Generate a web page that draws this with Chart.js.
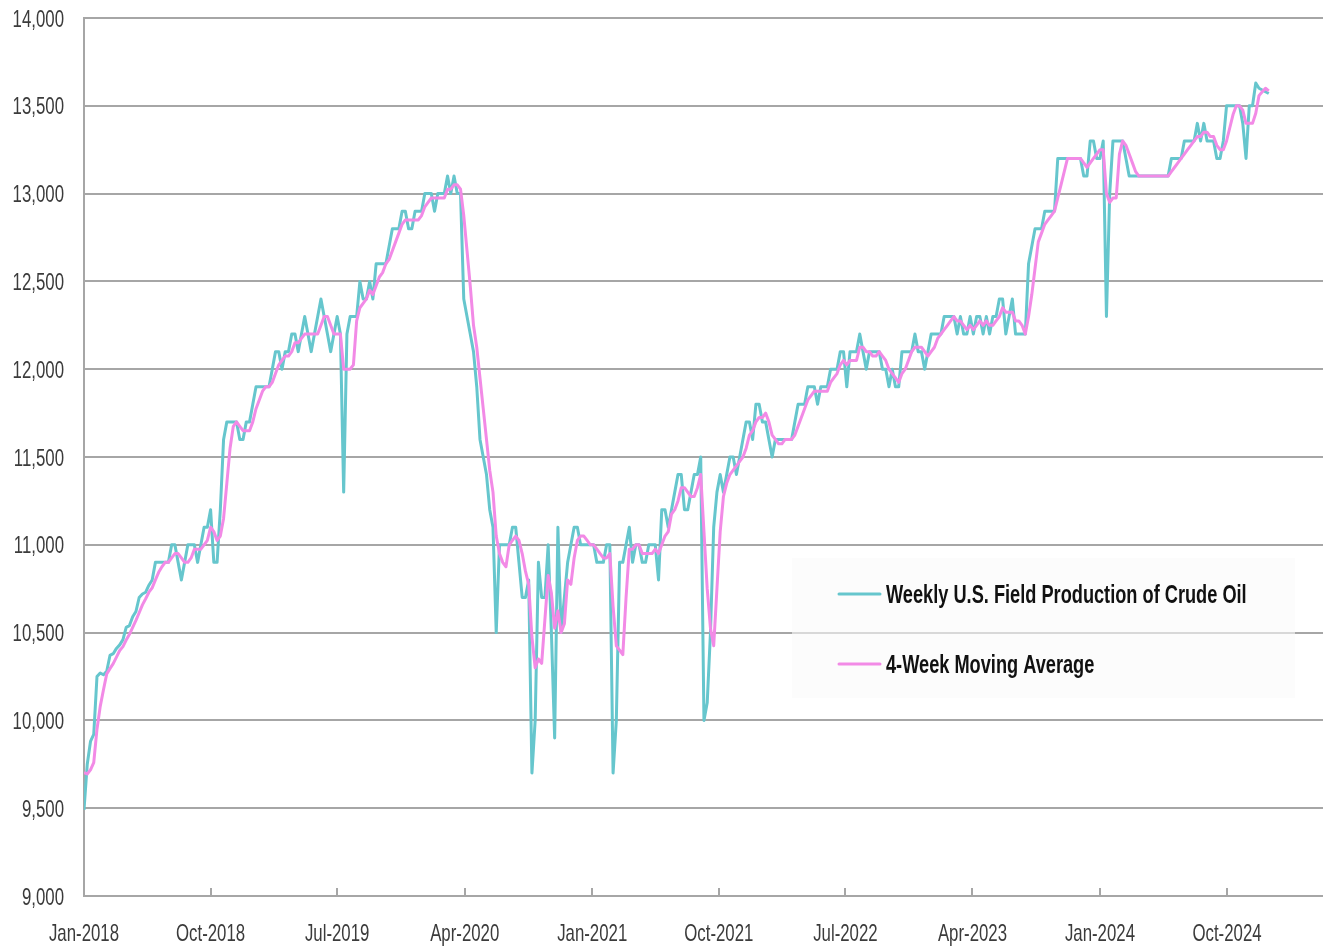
<!DOCTYPE html>
<html>
<head>
<meta charset="utf-8">
<title>Weekly U.S. Field Production of Crude Oil</title>
<script src="https://cdn.jsdelivr.net/npm/chart.js@4.4.1/dist/chart.umd.min.js"></script>
<style>
  html, body { margin: 0; padding: 0; background: #ffffff; }
  canvas { display: block; }
</style>
</head>
<body>
<canvas id="chart" width="1323" height="946"></canvas>
<script>
// Weekly U.S. field production of crude oil, thousand barrels per day (one value per week, from the first week of 2018)
const prod2018 = [9490, 9750, 9880, 9920, 10250, 10270, 10260, 10280, 10370, 10380,
  10410, 10430, 10460, 10530, 10540, 10590, 10620, 10700, 10720, 10730,
  10770, 10800, 10900, 10900, 10900, 10900, 10900, 11000, 11000, 10900,
  10800, 10900, 11000, 11000, 11000, 10900, 11000, 11100, 11100, 11200,
  10900, 10900, 11200, 11600, 11700, 11700, 11700, 11700, 11600, 11600,
  11700, 11700];
const prod2019 = [11800, 11900, 11900, 11900, 11900, 11900, 12000, 12100, 12100, 12000,
  12100, 12100, 12200, 12200, 12100, 12200, 12300, 12200, 12100, 12200,
  12300, 12400, 12300, 12200, 12100, 12200, 12300, 12200, 11300, 12200,
  12300, 12300, 12300, 12500, 12400, 12400, 12500, 12400, 12600, 12600,
  12600, 12600, 12700, 12800, 12800, 12800, 12900, 12900, 12800, 12800,
  12900, 12900];
const prod2020 = [12900, 13000, 13000, 13000, 12900, 13000, 13000, 13000, 13100, 13000,
  13100, 13000, 13000, 12400, 12300, 12200, 12100, 11900, 11600, 11500,
  11400, 11200, 11100, 10500, 11000, 11000, 11000, 11000, 11100, 11100,
  10900, 10700, 10700, 10800, 9700, 10000, 10900, 10700, 10700, 11000,
  10500, 9900, 11100, 10500, 10700, 10900, 11000, 11100, 11100, 11000,
  11000, 11000];
const prod2021 = [11000, 11000, 10900, 10900, 10900, 11000, 11000, 9700, 10000, 10900,
  10900, 11000, 11100, 10900, 11000, 11000, 10900, 10900, 11000, 11000,
  11000, 10800, 11200, 11200, 11100, 11200, 11300, 11400, 11400, 11200,
  11200, 11300, 11400, 11400, 11500, 10000, 10100, 10500, 11100, 11300,
  11400, 11300, 11400, 11500, 11500, 11400, 11500, 11600, 11700, 11700,
  11600, 11800];
const prod2022 = [11800, 11700, 11700, 11600, 11500, 11600, 11600, 11600, 11600, 11600,
  11600, 11700, 11800, 11800, 11800, 11900, 11900, 11900, 11800, 11900,
  11900, 11900, 12000, 12000, 12000, 12100, 12100, 11900, 12100, 12100,
  12100, 12200, 12100, 12000, 12100, 12100, 12100, 12100, 12000, 12000,
  11900, 12000, 11900, 11900, 12100, 12100, 12100, 12100, 12200, 12100,
  12100, 12000];
const prod2023 = [12100, 12200, 12200, 12200, 12200, 12300, 12300, 12300, 12300, 12200,
  12300, 12200, 12200, 12300, 12200, 12300, 12300, 12200, 12300, 12200,
  12300, 12300, 12400, 12400, 12200, 12300, 12400, 12200, 12200, 12200,
  12200, 12600, 12700, 12800, 12800, 12800, 12900, 12900, 12900, 12900,
  13200, 13200, 13200, 13200, 13200, 13200, 13200, 13200, 13100, 13100,
  13300, 13300];
const prod2024 = [13200, 13200, 13300, 12300, 13000, 13300, 13300, 13300, 13300, 13200,
  13100, 13100, 13100, 13100, 13100, 13100, 13100, 13100, 13100, 13100,
  13100, 13100, 13100, 13200, 13200, 13200, 13200, 13300, 13300, 13300,
  13300, 13400, 13300, 13400, 13300, 13300, 13300, 13200, 13200, 13300,
  13500, 13500, 13500, 13500, 13500, 13400, 13200, 13500, 13500, 13630,
  13600, 13590, 13580, 13570];

// 4-week moving average, same weeks
const avg2018 = [9703, 9695, 9718, 9760, 9950, 10080, 10175, 10265, 10295, 10323,
  10360, 10398, 10420, 10458, 10490, 10530, 10570, 10613, 10658, 10693,
  10730, 10755, 10800, 10843, 10875, 10900, 10900, 10925, 10950, 10950,
  10925, 10900, 10900, 10925, 10975, 10975, 10975, 11000, 11025, 11100,
  11075, 11025, 11050, 11150, 11350, 11550, 11675, 11700, 11675, 11650,
  11650, 11650];
const avg2019 = [11700, 11775, 11825, 11875, 11900, 11900, 11925, 11975, 12025, 12050,
  12075, 12075, 12100, 12150, 12150, 12175, 12200, 12200, 12200, 12200,
  12200, 12250, 12300, 12300, 12250, 12200, 12200, 12200, 12000, 12000,
  12000, 12025, 12275, 12350, 12375, 12400, 12450, 12425, 12475, 12525,
  12550, 12600, 12625, 12675, 12725, 12775, 12825, 12850, 12850, 12850,
  12850, 12850];
const avg2020 = [12875, 12925, 12950, 12975, 12975, 12975, 12975, 12975, 13025, 13025,
  13050, 13050, 13025, 12875, 12675, 12475, 12250, 12125, 11950, 11775,
  11600, 11425, 11300, 11050, 10950, 10900, 10875, 11000, 11025, 11050,
  11025, 10950, 10850, 10775, 10475, 10300, 10350, 10325, 10575, 10825,
  10725, 10525, 10625, 10500, 10550, 10800, 10775, 10925, 11025, 11050,
  11050, 11025];
const avg2021 = [11000, 11000, 10975, 10950, 10925, 10925, 10950, 10650, 10425, 10400,
  10375, 10700, 10975, 10975, 11000, 11000, 10950, 10950, 10950, 10950,
  10975, 10950, 11000, 11050, 11075, 11175, 11200, 11250, 11325, 11325,
  11300, 11275, 11275, 11325, 11400, 11075, 10750, 10525, 10425, 10750,
  11075, 11275, 11350, 11400, 11425, 11450, 11475, 11500, 11550, 11625,
  11650, 11700];
const avg2022 = [11725, 11725, 11750, 11700, 11625, 11600, 11575, 11575, 11600, 11600,
  11600, 11625, 11675, 11725, 11775, 11825, 11850, 11875, 11875, 11875,
  11875, 11875, 11925, 11950, 11975, 12025, 12050, 12025, 12050, 12050,
  12050, 12125, 12125, 12100, 12100, 12075, 12075, 12100, 12075, 12050,
  12000, 11975, 11950, 11925, 11975, 12000, 12050, 12100, 12125, 12125,
  12125, 12100];
const avg2023 = [12075, 12100, 12125, 12175, 12200, 12225, 12250, 12275, 12300, 12275,
  12275, 12250, 12225, 12250, 12225, 12250, 12275, 12250, 12275, 12250,
  12250, 12275, 12300, 12350, 12325, 12325, 12325, 12275, 12275, 12250,
  12200, 12300, 12425, 12575, 12725, 12775, 12825, 12850, 12875, 12900,
  12975, 13050, 13125, 13200, 13200, 13200, 13200, 13200, 13175, 13150,
  13175, 13200];
const avg2024 = [13225, 13250, 13250, 13000, 12950, 12975, 12975, 13225, 13300, 13275,
  13225, 13175, 13125, 13100, 13100, 13100, 13100, 13100, 13100, 13100,
  13100, 13100, 13100, 13125, 13150, 13175, 13200, 13225, 13250, 13275,
  13300, 13325, 13325, 13350, 13350, 13325, 13325, 13275, 13250, 13250,
  13300, 13375, 13450, 13500, 13500, 13475, 13400, 13400, 13400, 13458,
  13558, 13580, 13600, 13585];

const xTickLabels = ['Jan-2018', 'Oct-2018', 'Jul-2019', 'Apr-2020', 'Jan-2021',
  'Oct-2021', 'Jul-2022', 'Apr-2023', 'Jan-2024', 'Oct-2024'];
const yRange = { min: 9000, max: 14000, step: 500 };
const seriesNames = ['Weekly U.S. Field Production of Crude Oil', '4-Week Moving Average'];
const seriesColors = ['#66c6cd', '#f28ae6'];

// ---- time helpers: x values are days counted from 1 Jan 2018 ----
const DAY_MS = 86400000;
const ORIGIN = Date.UTC(2018, 0, 1);
const MONTHS = ['Jan', 'Feb', 'Mar', 'Apr', 'May', 'Jun', 'Jul', 'Aug', 'Sep', 'Oct', 'Nov', 'Dec'];
const X_MAX_DAY = (Date.UTC(2025, 3, 26) - ORIGIN) / DAY_MS;

function labelToDay(label) {
  const [mon, year] = label.split('-');
  return (Date.UTC(Number(year), MONTHS.indexOf(mon), 1) - ORIGIN) / DAY_MS;
}

const weekly = [].concat(prod2018, prod2019, prod2020, prod2021, prod2022, prod2023, prod2024);
const movingAvg = [].concat(avg2018, avg2019, avg2020, avg2021, avg2022, avg2023, avg2024);
const toPoints = arr => arr.map((v, i) => ({ x: i * 7, y: v }));

// Text in this chart is set in a horizontally condensed face
const SQUEEZE = 0.7;
const FONT_FAMILY = '"Liberation Sans", Arial, Helvetica, sans-serif';
const AXIS_GREY = '#a6a6a6';

function squeezedText(ctx, text, x, y, align) {
  ctx.save();
  ctx.translate(x, y);
  ctx.scale(SQUEEZE, 1);
  ctx.textAlign = align;
  ctx.fillText(text, 0, 0);
  ctx.restore();
}

// Axis tick labels and the inward x tick marks
const axisLabels = {
  id: 'axisLabels',
  afterDraw(chart) {
    const { ctx, scales: { x, y } } = chart;
    const size = 24;
    ctx.save();
    ctx.fillStyle = '#3b3b3b';
    ctx.font = size + 'px ' + FONT_FAMILY;
    ctx.textBaseline = 'alphabetic';
    y.ticks.forEach(t => {
      const py = y.getPixelForValue(t.value);
      squeezedText(ctx, t.label, y.right - 20, py + size * 0.358, 'right');
    });
    x.ticks.forEach(t => {
      const px = x.getPixelForValue(t.value);
      squeezedText(ctx, t.label, px, x.top + 45, 'center');
    });
    ctx.strokeStyle = AXIS_GREY;
    ctx.lineWidth = 2;
    x.ticks.forEach((t, i) => {
      if (i === 0) return;
      const px = Math.round(x.getPixelForValue(t.value));
      ctx.beginPath();
      ctx.moveTo(px, x.top);
      ctx.lineTo(px, x.top - 8);
      ctx.stroke();
    });
    ctx.restore();
  }
};

// Legend panel inside the plot area
const legendPanel = {
  id: 'legendPanel',
  afterDraw(chart) {
    const { ctx } = chart;
    const box = { left: 792, top: 558, width: 503, height: 140 };
    ctx.save();
    ctx.fillStyle = 'rgba(250,250,250,0.6)';
    ctx.fillRect(box.left, box.top, box.width, box.height);
    ctx.font = 'bold 26px ' + FONT_FAMILY;
    ctx.textBaseline = 'alphabetic';
    chart.data.datasets.forEach((ds, i) => {
      const cy = 594 + i * 70;
      ctx.strokeStyle = ds.borderColor;
      ctx.lineWidth = 3;
      ctx.lineCap = 'round';
      ctx.beginPath();
      ctx.moveTo(839, cy);
      ctx.lineTo(880, cy);
      ctx.stroke();
      ctx.fillStyle = '#111111';
      squeezedText(ctx, ds.label, 886, cy + 9, 'left');
    });
    ctx.restore();
  }
};

new Chart(document.getElementById('chart'), {
  type: 'line',
  data: {
    datasets: [
      {
        label: seriesNames[0],
        data: toPoints(weekly),
        borderColor: seriesColors[0],
        borderWidth: 3,
        pointRadius: 0,
        tension: 0,
        borderJoinStyle: 'round',
        order: 1
      },
      {
        label: seriesNames[1],
        data: toPoints(movingAvg),
        borderColor: seriesColors[1],
        borderWidth: 3,
        pointRadius: 0,
        tension: 0,
        borderJoinStyle: 'round',
        order: 0
      }
    ]
  },
  options: {
    responsive: false,
    animation: false,
    devicePixelRatio: 1,
    parsing: true,
    layout: { padding: { top: 18, right: 0, bottom: 0, left: 0 } },
    plugins: {
      legend: { display: false },
      tooltip: { enabled: false },
      title: { display: false }
    },
    scales: {
      x: {
        type: 'linear',
        min: 0,
        max: X_MAX_DAY,
        afterBuildTicks: scale => {
          scale.ticks = xTickLabels.map(l => ({ value: labelToDay(l) }));
        },
        afterFit: scale => { scale.height = 50; },
        ticks: {
          display: false,
          callback: (value, index) => xTickLabels[index]
        },
        grid: { drawOnChartArea: false, drawTicks: false },
        border: { display: true, color: AXIS_GREY, width: 2 }
      },
      y: {
        type: 'linear',
        min: yRange.min,
        max: yRange.max,
        afterFit: scale => { scale.width = 84; },
        ticks: {
          display: false,
          stepSize: yRange.step
        },
        grid: { color: AXIS_GREY, lineWidth: 2, drawTicks: false },
        border: { display: true, color: AXIS_GREY, width: 2 }
      }
    }
  },
  plugins: [axisLabels, legendPanel]
});
</script>
</body>
</html>
